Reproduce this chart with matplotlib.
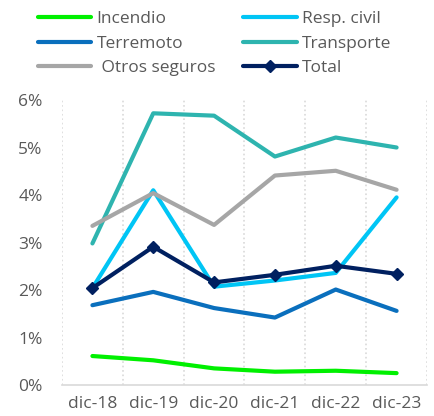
import numpy as np
from matplotlib import pyplot as plt
from matplotlib.ticker import FuncFormatter, MultipleLocator

plt.rcParams["font.family"] = ["Open Sans", "DejaVu Sans"]

years = ['dic-18', 'dic-19', 'dic-20', 'dic-21', 'dic-22', 'dic-23']
incendio    = [0.61, 0.52, 0.35, 0.28, 0.30, 0.25]
resp_civil  = [2.04, 4.10, 2.07, 2.20, 2.36, 3.95]
terremoto   = [1.68, 1.96, 1.62, 1.42, 2.01, 1.56]
transporte  = [2.98, 5.72, 5.67, 4.81, 5.21, 5.00]
otros       = [3.35, 4.04, 3.37, 4.41, 4.51, 4.11]
total       = [2.04, 2.91, 2.16, 2.32, 2.51, 2.34]

txt = '#595959'
fig = plt.figure(figsize=(4.35, 4.16), dpi=100)
ax = fig.add_axes([62/435, 1-385/416, (427-62)/435, (385-100)/416])

x = np.arange(len(years))
lw = 3
l1, = ax.plot(x, incendio, color='#00F000', lw=lw, label='Incendio', solid_capstyle='round')
l2, = ax.plot(x, resp_civil, color='#00C5F5', lw=lw, label='Resp. civil', solid_capstyle='round')
l3, = ax.plot(x, terremoto, color='#0A6FBD', lw=lw, label='Terremoto', solid_capstyle='round')
l4, = ax.plot(x, transporte, color='#2EB4AF', lw=lw, label='Transporte', solid_capstyle='round')
l5, = ax.plot(x, otros, color='#A6A6A6', lw=lw, label=' Otros seguros', solid_capstyle='round')
l6, = ax.plot(x, total, color='#002060', lw=lw, marker='D', ms=6, label='Total', solid_capstyle='round')

ax.set_xlim(-0.5, 5.5)
ax.set_ylim(0, 6)
ax.set_xticks(x)
ax.set_xticklabels(years)
ax.set_xticks(np.arange(-0.5, 6, 1), minor=True)
ax.yaxis.set_major_locator(MultipleLocator(1))
ax.yaxis.set_major_formatter(FuncFormatter(lambda v, p: f'{v:.0f}%'))
ax.grid(axis='x', which='minor', color='#D9D9D9', ls=':', lw=1.2)
ax.tick_params(axis='both', which='both', length=0, labelsize=12.5, labelcolor=txt)
ax.tick_params(axis='x', pad=8)
ax.tick_params(axis='y', pad=14)
for s in ['top', 'right', 'left']:
  ax.spines[s].set_visible(False)
ax.spines['bottom'].set_color('#D9D9D9')
ax.spines['bottom'].set_linewidth(1.2)

# column-wise fill so rows read Incendio/Resp. civil, Terremoto/Transporte, ...
leg = fig.legend(handles=[l1, l3, l5, l2, l4, l6], ncol=2, loc='upper left',
                 bbox_to_anchor=(22/435, 1+5/416), frameon=False, fontsize=12.5,
                 handlelength=3.1, handletextpad=0.3, columnspacing=1.6,
                 labelspacing=0.5, labelcolor=txt)

plt.savefig('out.png', dpi=100)
